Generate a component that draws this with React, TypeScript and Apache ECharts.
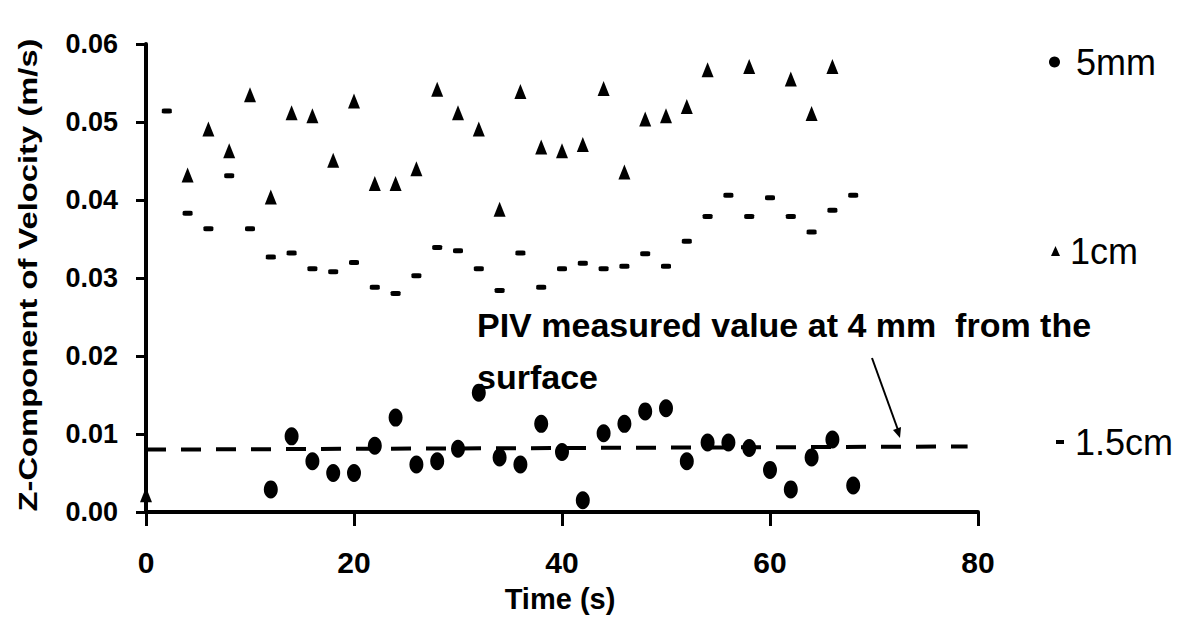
import React, { useEffect, useRef } from "react";
import * as echarts from "echarts";

// ---- data ----
const time5mm = [12, 14, 16, 18, 20, 22, 24, 26, 28, 30, 32, 34, 36, 38, 40, 42, 44, 46, 48, 50, 52, 54, 56, 58, 60, 62, 64, 66, 68];
const vel5mm = [0.0029, 0.0097, 0.0065, 0.005, 0.005, 0.0085, 0.0121, 0.0061, 0.0065, 0.0081, 0.0153, 0.007, 0.0061, 0.0113, 0.0077, 0.0015, 0.0101, 0.0113, 0.0129, 0.0133, 0.0065, 0.0089, 0.0089, 0.0082, 0.0054, 0.0029, 0.007, 0.0093, 0.0034];

const time1cm = [0, 4, 6, 8, 10, 12, 14, 16, 18, 20, 22, 24, 26, 28, 30, 32, 34, 36, 38, 40, 42, 44, 46, 48, 50, 52, 54, 58, 62, 64, 66];
const vel1cm = [0.0022, 0.0432, 0.0491, 0.0463, 0.0535, 0.0404, 0.0512, 0.0508, 0.0451, 0.0527, 0.0421, 0.0421, 0.044, 0.0542, 0.0512, 0.0491, 0.0388, 0.0539, 0.0468, 0.0463, 0.0471, 0.0543, 0.0436, 0.0504, 0.0508, 0.052, 0.0567, 0.0571, 0.0555, 0.0511, 0.0571];

const time15cm = [2, 4, 6, 8, 10, 12, 14, 16, 18, 20, 22, 24, 26, 28, 30, 32, 34, 36, 38, 40, 42, 44, 46, 48, 50, 52, 54, 56, 58, 60, 62, 64, 66, 68];
const vel15cm = [0.0514, 0.0383, 0.0363, 0.0431, 0.0363, 0.0327, 0.0332, 0.0312, 0.0308, 0.032, 0.0288, 0.028, 0.0303, 0.0339, 0.0335, 0.0312, 0.0284, 0.0332, 0.0288, 0.0312, 0.0319, 0.0312, 0.0315, 0.0331, 0.0315, 0.0347, 0.0379, 0.0406, 0.0379, 0.0403, 0.0379, 0.0359, 0.0387, 0.0406];

const pivTime = [0, 79];
const pivVel = [0.008, 0.0084];

const xTicks = [0, 20, 40, 60, 80];
const yTicks = [0, 0.01, 0.02, 0.03, 0.04, 0.05, 0.06];

const seriesNames = ["5mm", "1cm", "1.5cm"];
const xTitle = "Time (s)";
const yTitle = "Z-Component of Velocity (m/s)";
const noteLine1 = "PIV measured value at 4 mm  from the";
const noteLine2 = "surface";

const FONT = "'Liberation Sans', Arial, sans-serif";

const zip = (xs: number[], ys: number[]) => xs.map((x, i) => [x, ys[i]]);

export default function App() {
  const ref = useRef<HTMLDivElement>(null);
  useEffect(() => {
    if (!ref.current) return;
    const chart = echarts.init(ref.current, null, { renderer: "svg" });
    const legendBase = {
      orient: "vertical" as const,
      itemGap: 0,
      selectedMode: false,
    };
    const legendText = (pad: number) => ({
      color: "#000",
      fontSize: 36,
      fontFamily: FONT,
      padding: [0, 0, 0, pad],
    });
    chart.setOption({
      animation: false,
      backgroundColor: "#fff",
      grid: { left: 146, top: 44, width: 832, height: 468, containLabel: false },
      xAxis: {
        type: "value",
        min: xTicks[0],
        max: xTicks[xTicks.length - 1],
        interval: 20,
        axisLine: { show: true, lineStyle: { color: "#000", width: 4 } },
        axisTick: { show: true, inside: false, length: 14, lineStyle: { color: "#000", width: 3 } },
        splitLine: { show: false },
        axisLabel: { color: "#000", fontSize: 30, fontWeight: "bold", fontFamily: FONT, margin: 35 },
      },
      yAxis: {
        type: "value",
        min: yTicks[0],
        max: yTicks[yTicks.length - 1],
        interval: 0.01,
        axisLine: { show: true, lineStyle: { color: "#000", width: 4 } },
        axisTick: { show: true, inside: false, length: 10, lineStyle: { color: "#000", width: 3 } },
        splitLine: { show: false },
        axisLabel: {
          color: "#000",
          fontSize: 27,
          fontWeight: "bold",
          fontFamily: FONT,
          margin: 28,
          formatter: (v: number) => v.toFixed(2),
        },
      },
      legend: [
        { ...legendBase, data: [{ name: seriesNames[0], icon: "circle" }], left: 1044, top: 39, itemWidth: 11, itemHeight: 12, textStyle: legendText(11) },
        { ...legendBase, data: [{ name: seriesNames[1], icon: "triangle" }], left: 1046, top: 228, itemWidth: 9, itemHeight: 10, textStyle: legendText(5) },
        { ...legendBase, data: [{ name: seriesNames[2], icon: "rect" }], left: 1051, top: 419, itemWidth: 8, itemHeight: 4, textStyle: legendText(6) },
      ],
      series: [
        {
          name: "PIV",
          type: "line",
          data: zip(pivTime, pivVel),
          symbol: "none",
          lineStyle: { color: "#000", width: 4, type: [20, 15] },
          z: 1,
        },
        {
          name: seriesNames[0],
          type: "scatter",
          data: zip(time5mm, vel5mm),
          symbol: "circle",
          symbolSize: [14, 18],
          itemStyle: { color: "#000", opacity: 1 },
          z: 3,
        },
        {
          name: seriesNames[1],
          type: "scatter",
          data: zip(time1cm, vel1cm),
          symbol: "triangle",
          symbolSize: [12, 15],
          itemStyle: { color: "#000", opacity: 1 },
          z: 3,
        },
        {
          name: seriesNames[2],
          type: "scatter",
          data: zip(time15cm, vel15cm),
          symbol: "roundRect",
          symbolSize: [10, 5],
          itemStyle: { color: "#000", opacity: 1 },
          z: 3,
        },
      ],
      graphic: [
        {
          type: "text",
          x: 28,
          y: 275,
          rotation: Math.PI / 2,
          scaleX: 1.26,
          style: {
            text: yTitle,
            font: `bold 26px ${FONT}`,
            fill: "#000",
            align: "center",
            verticalAlign: "middle",
          },
        },
        {
          type: "text",
          x: 560,
          y: 599,
          style: {
            text: xTitle,
            font: `bold 29px ${FONT}`,
            fill: "#000",
            align: "center",
            verticalAlign: "middle",
          },
        },
        {
          type: "text",
          x: 477,
          y: 325,
          style: {
            text: noteLine1,
            font: `bold 34px ${FONT}`,
            fill: "#000",
            align: "left",
            verticalAlign: "middle",
          },
        },
        {
          type: "text",
          x: 477,
          y: 377,
          style: {
            text: noteLine2,
            font: `bold 34px ${FONT}`,
            fill: "#000",
            align: "left",
            verticalAlign: "middle",
          },
        },
        {
          type: "line",
          shape: { x1: 872, y1: 358, x2: 898, y2: 430 },
          style: { stroke: "#000", lineWidth: 2 },
        },
        {
          type: "polygon",
          shape: { points: [[900, 438], [901, 427], [893, 430]] },
          style: { fill: "#000" },
        },
      ],
    });
    return () => chart.dispose();
  }, []);
  return (
    <div
      ref={ref}
      style={{ position: "fixed", left: 0, top: 0, width: 1184, height: 617, background: "#fff" }}
    />
  );
}
